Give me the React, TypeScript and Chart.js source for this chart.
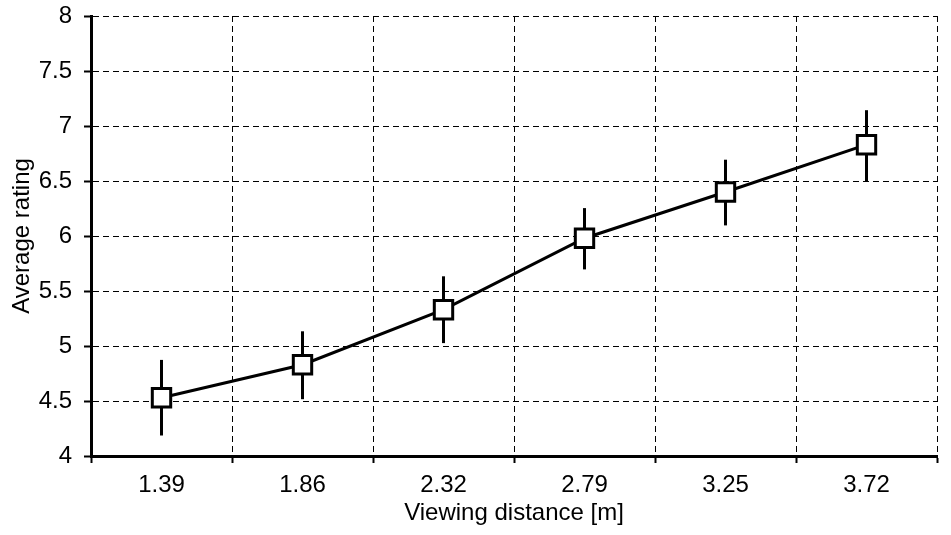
import React, { useEffect, useRef } from "react";
import { Chart, registerables } from "chart.js";

Chart.register(...registerables);

const categories = ["1.39", "1.86", "2.32", "2.79", "3.25", "3.72"];
const averageRating = [4.53, 4.83, 5.33, 5.98, 6.4, 6.83];
const errorHigh = [4.86, 5.12, 5.62, 6.24, 6.68, 7.13];
const errorLow = [4.2, 4.53, 5.04, 5.71, 6.11, 6.51];
const yTicks = [4, 4.5, 5, 5.5, 6, 6.5, 7, 7.5, 8];

const FONT = "'Liberation Sans', Arial, sans-serif";

const errorBarPlugin = {
  id: "errorBars",
  beforeDatasetsDraw(chart: any) {
    const meta = chart.getDatasetMeta(0);
    const y = chart.scales.y;
    const ctx = chart.ctx;
    ctx.save();
    ctx.strokeStyle = "#000";
    ctx.lineWidth = 3;
    ctx.lineCap = "square";
    meta.data.forEach((el: any, i: number) => {
      const yHi = y.getPixelForValue(errorHigh[i]);
      const yLo = y.getPixelForValue(errorLow[i]);
      ctx.beginPath();
      ctx.moveTo(el.x, yHi);
      ctx.lineTo(el.x, yLo);
      ctx.stroke();
    });
    ctx.restore();
  },
};

export default function App() {
  const ref = useRef<HTMLCanvasElement | null>(null);

  useEffect(() => {
    if (!ref.current) return;
    const chart = new Chart(ref.current, {
      type: "line",
      data: {
        labels: categories,
        datasets: [
          {
            data: averageRating,
            borderColor: "#000",
            borderWidth: 3,
            pointStyle: "rect",
            pointRadius: 13,
            pointBorderWidth: 3,
            pointBackgroundColor: "#fff",
            pointBorderColor: "#000",
            tension: 0,
          },
        ],
      },
      options: {
        responsive: false,
        animation: false,
        devicePixelRatio: 1,
        layout: { padding: { top: 16, left: 0, right: 0, bottom: 0 } },
        plugins: {
          legend: { display: false },
          tooltip: { enabled: false },
        },
        scales: {
          x: {
            type: "category",
            offset: true,
            afterFit(scale: any) {
              scale.height = 79;
              scale.paddingLeft = 0;
              scale.paddingRight = 0;
            },
            grid: {
              offset: true,
              color: "#000",
              lineWidth: 1,
              tickColor: "#000",
              tickWidth: 2,
              tickLength: 7,
              tickBorderDash: [],
            },
            border: { color: "#000", width: 3, dash: [6, 4] },
            ticks: {
              color: "#000",
              font: { family: FONT, size: 24 },
              padding: 8,
            },
            title: {
              display: true,
              text: "Viewing distance [m]",
              color: "#000",
              font: { family: FONT, size: 24 },
              padding: { top: 0, bottom: 7 },
            },
          },
          y: {
            min: 4,
            max: 8,
            afterFit(scale: any) {
              scale.width = 91;
              scale.paddingTop = 0;
              scale.paddingBottom = 0;
            },
            afterBuildTicks(scale: any) {
              scale.ticks = yTicks.map((v) => ({ value: v }));
            },
            grid: {
              color: "#000",
              lineWidth: 1,
              tickColor: "#000",
              tickWidth: 2,
              tickLength: 7,
              tickBorderDash: [],
            },
            border: { color: "#000", width: 3, dash: [6, 4] },
            ticks: {
              color: "#000",
              font: { family: FONT, size: 24 },
              padding: 12,
              callback: (v: any) => String(v),
            },
            title: {
              display: true,
              text: "Average rating",
              color: "#000",
              font: { family: FONT, size: 24 },
              padding: { top: 8, bottom: 0 },
            },
          },
        },
      } as any,
      plugins: [errorBarPlugin],
    });
    return () => chart.destroy();
  }, []);

  return (
    <div
      style={{
        position: "fixed",
        left: 0,
        top: 0,
        width: 951,
        height: 535,
        overflow: "hidden",
        background: "#fff",
      }}
    >
      <canvas ref={ref} width={953} height={535} style={{ width: 953, height: 535, display: "block" }} />
    </div>
  );
}
